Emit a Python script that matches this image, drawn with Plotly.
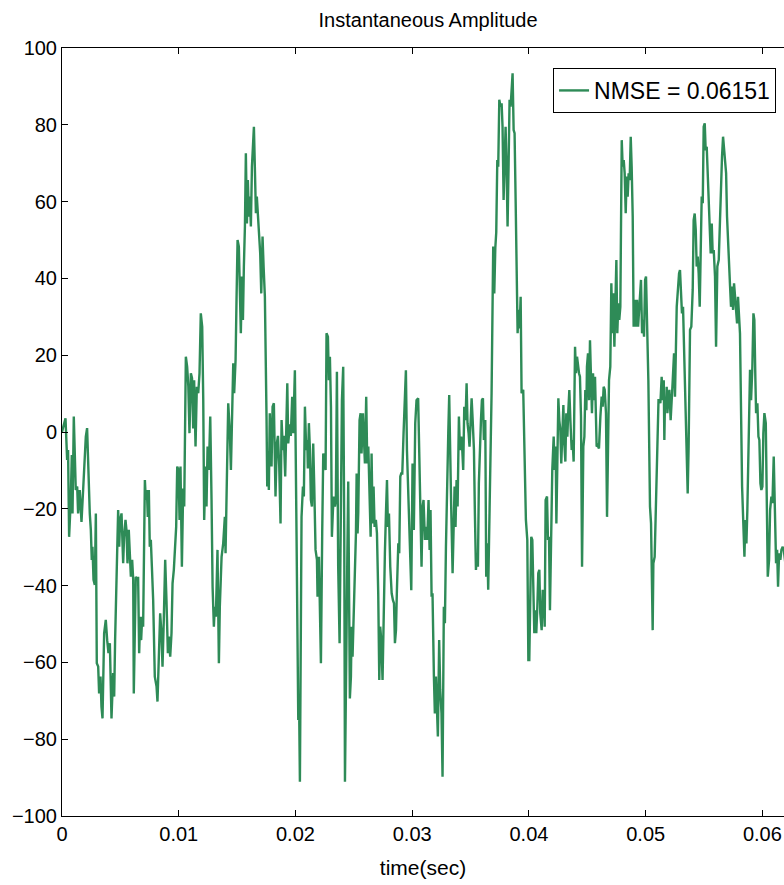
import numpy as np
import plotly.graph_objects as go

# time in milliseconds, amplitude values
time_ms = [
 0.00,0.15,0.30,0.44,0.52,0.61,0.75,0.84,0.90,1.01,1.10,1.18,1.30,1.38,1.52,1.67,1.81,1.95,2.04,2.15,
 2.27,2.38,2.47,2.55,2.61,2.70,2.81,2.90,2.98,3.10,3.18,3.30,3.38,3.47,3.61,3.75,3.87,3.98,4.10,4.24,
 4.38,4.47,4.55,4.67,4.81,4.90,4.98,5.10,5.24,5.32,5.44,5.52,5.61,5.72,5.81,5.90,6.01,6.10,6.15,6.24,
 6.32,6.44,6.52,6.61,6.70,6.78,6.87,6.95,7.10,7.18,7.27,7.35,7.44,7.52,7.61,7.70,7.81,7.95,8.10,8.18,
 8.30,8.41,8.52,8.61,8.72,8.84,8.95,9.07,9.15,9.27,9.38,9.47,9.58,9.70,9.78,9.87,9.98,10.07,10.15,10.27,
 10.38,10.47,10.61,10.72,10.82,10.92,11.04,11.14,11.24,11.32,11.44,11.55,11.67,11.78,11.89,12.01,12.10,12.18,12.30,12.38,
 12.47,12.58,12.70,12.81,12.90,13.01,13.09,13.18,13.32,13.44,13.52,13.67,13.81,13.95,14.01,14.24,14.38,14.47,14.58,14.67,
 14.75,14.87,14.95,15.04,15.15,15.24,15.32,15.41,15.50,15.58,15.67,15.75,15.84,15.92,16.01,16.09,16.18,16.27,16.35,16.44,
 16.52,16.61,16.69,16.78,16.87,16.98,17.07,17.18,17.27,17.38,17.52,17.58,17.66,17.72,17.80,17.88,17.95,18.04,18.15,18.29,
 18.40,18.50,18.61,18.72,18.81,18.92,19.00,19.12,19.20,19.30,19.38,19.52,19.60,19.72,19.81,19.95,20.09,20.24,20.32,20.38,
 20.52,20.64,20.72,20.81,20.92,21.01,21.06,21.15,21.24,21.32,21.41,21.52,21.61,21.72,21.84,21.89,22.01,22.09,22.18,22.29,
 22.38,22.47,22.58,22.66,22.78,22.86,22.95,23.04,23.12,23.21,23.29,23.38,23.46,23.55,23.66,23.78,23.89,23.98,24.09,24.18,
 24.24,24.35,24.44,24.52,24.61,24.66,24.75,24.81,24.89,24.98,25.09,25.18,25.24,25.32,25.38,25.49,25.58,25.66,25.78,25.86,
 25.95,26.06,26.15,26.24,26.32,26.44,26.52,26.61,26.69,26.78,26.89,26.98,27.09,27.18,27.26,27.35,27.46,27.58,27.66,27.75,
 27.84,27.92,28.01,28.12,28.24,28.35,28.44,28.52,28.61,28.69,28.81,28.89,28.98,29.06,29.15,29.26,29.38,29.46,29.55,29.66,
 29.75,29.84,29.92,30.03,30.14,30.26,30.37,30.51,30.66,30.80,30.89,30.97,31.09,31.18,31.29,31.40,31.49,31.57,31.66,31.74,
 31.86,31.94,32.03,32.11,32.20,32.31,32.40,32.51,32.60,32.71,32.80,32.89,32.97,33.09,33.17,33.26,33.34,33.46,33.54,33.63,
 33.71,33.80,33.89,34.00,34.09,34.20,34.29,34.37,34.46,34.57,34.66,34.74,34.83,34.91,35.00,35.09,35.18,35.29,35.37,35.46,
 35.54,35.63,35.71,35.80,35.89,35.97,36.06,36.14,36.26,36.34,36.43,36.51,36.60,36.80,36.94,37.03,37.12,37.20,37.29,37.37,
 37.46,37.57,37.66,37.74,37.83,37.91,38.00,38.09,38.17,38.26,38.34,38.43,38.51,38.60,38.69,38.77,38.86,38.94,39.03,39.11,
 39.20,39.29,39.37,39.51,39.66,39.74,39.86,39.95,40.03,40.12,40.20,40.29,40.37,40.46,40.55,40.63,40.72,40.80,40.89,40.97,
 41.09,41.18,41.26,41.35,41.43,41.55,41.63,41.72,41.80,41.89,42.00,42.12,42.20,42.29,42.35,42.43,42.52,42.60,42.69,42.77,
 42.86,42.95,43.03,43.12,43.20,43.29,43.37,43.46,43.55,43.66,43.74,43.83,43.95,44.03,44.12,44.20,44.29,44.37,44.46,44.55,
 44.66,44.75,44.83,44.92,44.97,45.06,45.15,45.23,45.32,45.40,45.49,45.57,45.66,45.74,45.80,45.89,46.00,46.12,46.23,46.32,
 46.40,46.49,46.60,46.69,46.77,46.86,46.97,47.06,47.15,47.23,47.32,47.40,47.49,47.57,47.66,47.74,47.83,47.95,48.03,48.12,
 48.20,48.29,48.37,48.46,48.54,48.63,48.72,48.80,48.89,48.97,49.09,49.17,49.26,49.35,49.43,49.52,49.60,49.69,49.77,49.86,
 49.95,50.03,50.12,50.23,50.37,50.46,50.60,50.66,50.77,50.86,50.94,51.03,51.10,51.17,51.26,51.37,51.46,51.55,51.60,51.66,
 51.74,51.80,51.86,51.94,52.03,52.14,52.22,52.31,52.43,52.51,52.66,52.77,52.86,52.94,53.03,53.11,53.20,53.28,53.37,53.48,
 53.60,53.68,53.80,53.91,54.03,54.11,54.20,54.29,54.37,54.46,54.54,54.63,54.71,54.80,54.89,54.97,55.06,55.14,55.23,55.31,
 55.40,55.49,55.57,55.66,55.74,55.83,55.94,56.03,56.14,56.26,56.37,56.46,56.54,56.63,56.71,56.80,56.89,56.97,57.06,57.14,
 57.23,57.31,57.40,57.49,57.57,57.66,57.74,57.83,57.91,58.00,58.08,58.26,58.37,58.46,58.54,58.63,58.71,58.83,58.94,59.03,
 59.14,59.23,59.31,59.40,59.46,59.57,59.66,59.74,59.83,59.91,60.00,60.08,60.17,60.29,60.37,60.46,60.57,60.66,60.77,60.86,
 60.97,61.06,61.17,61.26,61.34,61.43,61.54,61.63,61.74,61.83,62.00]

amplitude = [
 0,2.3,3.6,-7.3,-4.7,-27.3,-17.7,-6.0,-21.2,4.0,-3.8,-15.1,-14.2,-21.2,-15.1,-23.4,-15.1,-3.8,-1.2,1.0,
 -12.5,-21.2,-25.5,-33.3,-29.9,-38.5,-39.8,-21.2,-60.2,-61.1,-68.1,-63.7,-71.5,-74.6,-52.4,-48.9,-54.2,-57.6,-55.0,-74.6,
 -62.8,-68.9,-54.2,-38.5,-20.3,-29.9,-22.9,-21.2,-34.2,-27.3,-22.9,-25.5,-34.2,-25.5,-34.2,-37.7,-33.3,-38.5,-68.1,-52.4,
 -37.7,-38.5,-37.7,-57.6,-48.1,-54.2,-48.1,-50.7,-12.5,-17.7,-15.1,-22.1,-15.1,-29.9,-28.1,-35.1,-43.8,-63.7,-66.3,-70.2,
 -55.9,-47.2,-52.4,-61.1,-48.9,-33.3,-43.8,-57.6,-53.3,-58.5,-52.4,-39.4,-35.9,-26.4,-24.7,-9.0,-9.9,-22.9,-9.0,-35.1,
 -14.7,-19.4,19.6,17.0,12.0,-0.3,15.3,14.0,0.9,13.5,-3.8,11.8,10.1,15.3,30.9,27.4,8.3,-22.9,-9.0,-19.4,
 -3.8,-9.9,4.0,-17.7,-40.3,-50.7,-45.5,-48.1,-30.7,-60.2,-45.5,-32.5,-29.0,-22.1,-31.6,7.5,-0.3,-9.9,2.3,17.9,
 10.1,18.8,34.4,50.0,48.3,37.0,25.7,40.5,29.2,43.1,53.5,72.6,54.3,65.6,56.1,61.3,53.5,69.1,75.2,79.5,
 69.1,57.0,61.3,56.1,51.7,46.5,36.1,50.9,43.1,35.2,4.0,-14.2,-5.0,-15.1,4.9,-3.0,-9.0,6.6,7.5,-16.8,
 -3.0,-1.0,-9.0,-23.8,3.1,-4.7,-1.0,-11.6,-2.0,12.7,-3.0,2.0,-1.0,9.2,-0.3,16.1,-26.4,-75.0,-73.3,-91.1,
 -22.1,-14.2,-16.8,6.6,-4.7,-2.1,-9.5,2.3,-4.7,-17.7,-19.4,-3.0,-14.2,-30.7,-33.3,-42.9,-32.5,-52.4,-60.2,-26.4,
 -5.6,-6.5,-9.9,25.7,24.8,13.5,19.6,6.6,-27.3,-20.3,-16.8,-19.4,-17.7,15.7,-35.1,-55.0,-26.4,8.3,17.0,-26.4,
 -91.1,-50.7,-33.3,-12.9,-52.4,-69.4,-63.7,-50.7,-58.5,-50.0,-39.4,-26.4,-10.8,-26.4,-21.0,3.1,4.9,-5.6,4.9,-4.7,
 -8.2,9.2,-8.2,-3.8,-14.2,-27.3,-5.6,-23.8,-14.2,-24.7,-22.9,-26.4,-42.0,-64.6,-50.7,-54.2,-64.6,-39.4,-31.6,-21.2,
 -12.5,-24.7,-21.2,-35.1,-42.0,-43.8,-44.6,-55.0,-51.6,-41.2,-29.0,-31.6,-11.6,-10.8,-10.8,-0.3,11.8,16.1,-4.7,-17.7,
 -26.4,-35.1,-41.2,-8.2,-25.5,2.3,8.3,8.8,-10.8,-35.1,-19.4,-17.7,-28.1,-24.7,-28.1,-17.7,-30.7,-20.3,-42.9,-42.0,
 -63.7,-73.3,-63.7,-71.5,-79.3,-54.2,-67.1,-73.3,-89.8,-45.5,-49.8,-29.9,-15.1,-0.3,9.6,-9.0,-19.4,-36.8,-24.7,-14.2,
 -24.7,-12.5,-19.4,4.0,-4.7,-1.2,-4.7,-9.9,6.6,3.1,12.7,2.3,-0.3,-3.8,2.3,8.8,3.1,-4.7,-21.2,-35.9,
 -31.6,-35.1,-13.4,-2.9,3.1,8.3,8.8,-2.1,3.1,-37.7,-29.0,-41.1,-26.4,10.1,48.3,36.1,48.0,52.0,70.8,69.1,
 86.5,84.7,85.6,79.5,60.4,74.3,79.5,68.0,53.5,70.0,86.5,84.7,89.1,93.4,78.6,77.8,60.4,40.5,25.7,31.8,
 27.0,35.2,10.1,11.0,-16.0,-22.9,-28.1,-59.4,-59.4,-42.9,-27.3,-28.1,-40.3,-52.4,-46.4,-52.4,-45.5,-36.8,-35.9,-47.2,
 -51.6,-41.1,-42.0,-50.7,-17.7,-16.8,-28.1,-27.3,-46.4,-29.0,-9.9,-1.2,-9.9,-3.8,-23.8,-9.0,8.8,3.1,0.5,-8.2,
 -2.1,7.0,-2.9,-7.7,4.9,-1.2,5.3,10.9,3.1,-4.7,-2.1,-7.7,22.2,15.3,19.6,17.0,15.3,14.4,4.0,-35.1,
 -3.8,-1.2,10.9,5.7,17.0,20.5,8.3,23.9,13.5,4.9,15.3,8.3,14.4,3.0,-3.8,-3.5,-4.3,4.0,9.2,6.6,
 11.8,11.0,4.9,-22.1,-3.8,13.5,17.0,38.7,25.7,36.1,22.2,36.1,44.8,25.7,33.5,29.2,32.6,76.0,69.1,70.8,
 67.4,57.0,66.5,61.3,67.4,65.6,76.9,69.1,56.1,27.4,34.4,27.4,34.4,27.4,32.6,34.4,39.6,25.7,29.2,24.8,
 39.6,40.5,27.4,13.5,-19.4,-23.8,-51.6,-34.2,-32.5,-21.2,-17.7,-0.4,8.3,8.3,7.5,14.4,8.3,13.5,-2.1,9.2,
 6.0,11.8,4.9,8.3,11.0,3.1,10.0,13.0,20.5,9.2,32.6,37.8,41.3,42.2,34.4,30.9,32.6,22.2,7.5,-3.8,
 -16.0,-3.8,26.6,27.4,37.0,55.2,56.9,52.6,43.1,45.7,41.3,32.6,43.1,61.3,59.6,79.5,80.4,73.4,74.3,67.4,
 61.3,53.5,46.5,54.3,46.5,47.4,40.5,22.2,43.1,44.8,56.9,64.8,71.7,76.9,74.3,71.7,67.4,56.1,48.3,43.1,
 37.9,32.6,37.9,31.8,38.7,35.2,30.9,28.3,35.2,30.9,25.7,-14.2,-22.9,-32.5,-22.9,-29.0,-20.3,2.3,16.2,8.3,
 17.0,30.9,29.2,13.5,4.9,7.5,-1.2,-2.1,-13.4,-15.1,-14.2,-0.4,4.9,2.3,-12.5,-37.7,-33.3,-20.3,-16.8,-18.5,
 -6.4,-22.9,-34.2,-30.7,-40.3,-31.6,-33.3,-30.7,-29.9,-30.7,-35.0]

x_ticks = [0, 0.01, 0.02, 0.03, 0.04, 0.05, 0.06]
x_tick_labels = ["0", "0.01", "0.02", "0.03", "0.04", "0.05", "0.06"]
y_ticks = [-100, -80, -60, -40, -20, 0, 20, 40, 60, 80, 100]
series_name = "NMSE = 0.06151"

time_s = np.array(time_ms) / 1000.0

FONT = "Liberation Sans Narrow, Arial Narrow, Liberation Sans, Arial, sans-serif"

fig = go.Figure()
fig.add_trace(go.Scatter(
    x=time_s, y=amplitude, mode="lines", name=series_name,
    line=dict(color="#2E8B57", width=2.4),
    showlegend=True,
))

fig.update_layout(
    width=784, height=885,
    margin=dict(l=62, r=0, t=48, b=69),
    paper_bgcolor="white", plot_bgcolor="white",
    font=dict(family=FONT, size=20, color="black"),
    title=dict(text="Instantaneous Amplitude", x=0.507, xref="paper", xanchor="center",
               y=1 - 20/885, yref="container", yanchor="middle",
               font=dict(family=FONT, size=20, color="black")),
    showlegend=True,
    legend=dict(x=0.989, y=0.974, xanchor="right", yanchor="top",
                bgcolor="white", bordercolor="black", borderwidth=1,
                font=dict(family=FONT, size=23, color="black")),
)
fig.update_xaxes(
    range=[0, 0.06185], tickvals=x_ticks, ticktext=x_tick_labels,
    showgrid=False, zeroline=False, showline=True, linecolor="black", linewidth=1,
    mirror="ticks", ticks="inside", ticklen=6, tickcolor="black",
    title=dict(text="time(sec)", standoff=16, font=dict(family=FONT, size=21)),
)
fig.update_yaxes(
    range=[-100, 100], tickvals=y_ticks,
    showgrid=False, zeroline=False, showline=True, linecolor="black", linewidth=1,
    mirror=False, ticks="inside", ticklen=6, tickcolor="black",
)
fig.write_html("out.html")
